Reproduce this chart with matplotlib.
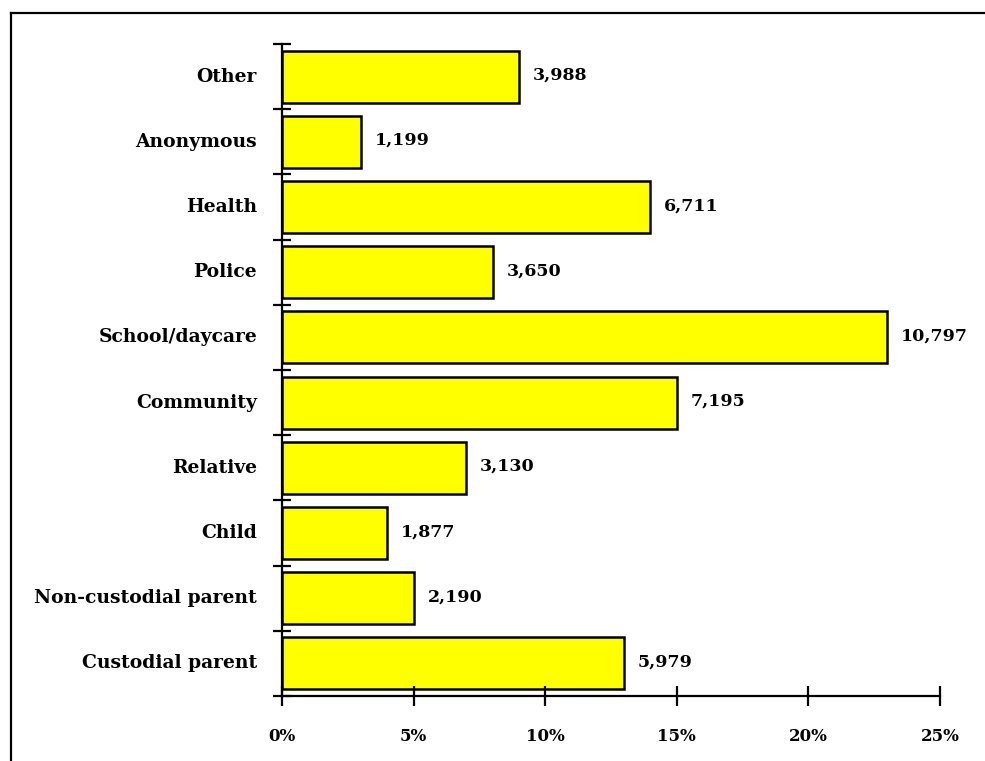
import matplotlib
matplotlib.use("Agg")
import matplotlib.pyplot as plt
from matplotlib.lines import Line2D
from matplotlib.ticker import FuncFormatter, FixedLocator

categories = ["Custodial parent", "Non-custodial parent", "Child", "Relative", "Community",
              "School/daycare", "Police", "Health", "Anonymous", "Other"]
percents = [13, 5, 4, 7, 15, 23, 8, 14, 3, 9]
counts = ["5,979", "2,190", "1,877", "3,130", "7,195", "10,797", "3,650", "6,711", "1,199", "3,988"]
xticks = [0, 5, 10, 15, 20, 25]

FAM = ["DejaVu Serif"]

W, H = 985, 761
fig = plt.figure(figsize=(W / 100, H / 100), dpi=100)
ax = fig.add_axes([282 / W, 1 - 696 / H, (940 - 282) / W, (696 - 44) / H])

y = list(range(len(categories)))
ax.barh(y, percents, height=0.8, color="#ffff00", edgecolor="black", linewidth=1.8)

for yi, p, c in zip(y, percents, counts):
    ax.annotate(c, (p, yi), xytext=(10, 1), textcoords="offset points",
                ha="left", va="center", family=FAM, weight="bold", size=12.5)

ax.set_xlim(0, 25)
ax.set_ylim(-0.5, len(categories) - 0.5)

for s in ["top", "right"]:
    ax.spines[s].set_visible(False)
for s in ["left", "bottom"]:
    ax.spines[s].set_linewidth(1.6)

ax.xaxis.set_major_locator(FixedLocator(xticks))
ax.xaxis.set_major_formatter(FuncFormatter(lambda v, _: f"{v:.0f}%"))
ax.tick_params(axis="x", direction="inout", length=14, width=1.6, pad=16)

ax.yaxis.set_major_locator(FixedLocator([i - 0.5 for i in range(len(categories) + 1)]))
ax.yaxis.set_major_formatter(FuncFormatter(lambda v, _: ""))
ax.yaxis.set_minor_locator(FixedLocator(y))
ax.set_yticklabels(categories, minor=True)
ax.tick_params(axis="y", which="major", direction="inout", length=13, width=1.6)
ax.tick_params(axis="y", which="minor", length=0, pad=18)

for lab in ax.get_xticklabels():
    lab.set_fontfamily(FAM)
    lab.set_fontweight("bold")
    lab.set_fontsize(12)
for lab in ax.get_yticklabels(minor=True):
    lab.set_fontfamily(FAM)
    lab.set_fontweight("bold")
    lab.set_fontsize(13.5)
    lab.set_verticalalignment("center")

fig.add_artist(Line2D([11 / W, 1.0], [1 - 13 / H, 1 - 13 / H], transform=fig.transFigure,
                      color="black", linewidth=1.6))
fig.add_artist(Line2D([11 / W, 11 / W], [0.0, 1 - 13 / H], transform=fig.transFigure,
                      color="black", linewidth=1.6))

fig.savefig("out.png", dpi=100)
